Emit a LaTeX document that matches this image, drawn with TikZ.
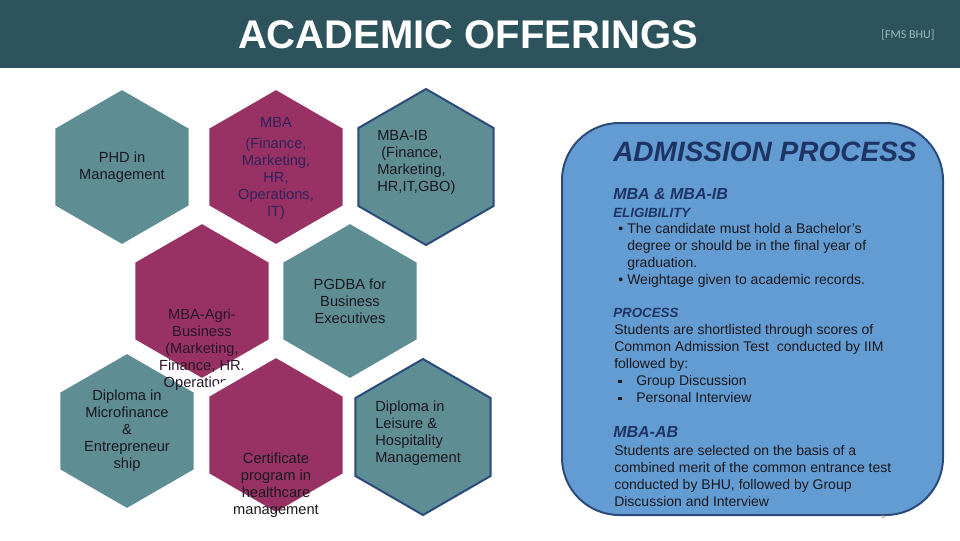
\documentclass[tikz,border=0pt]{standalone}
\usepackage{fontspec}
\setmainfont{Liberation Sans}
\newfontfamily\tagfont{Carlito}
\usepackage{tikz}
\usetikzlibrary{positioning, shapes.geometric}

\definecolor{barteal}{RGB}{45,83,92}
\definecolor{taggray}{RGB}{160,184,188}
\definecolor{hexteal}{RGB}{94,141,148}
\definecolor{hexwine}{RGB}{153,50,100}
\definecolor{panelblue}{RGB}{99,156,210}
\definecolor{panelnavy}{RGB}{44,74,122}
\definecolor{headnavy}{RGB}{30,52,100}
\definecolor{bodyink}{RGB}{25,25,30}
\definecolor{mbaink}{RGB}{48,34,92}
\definecolor{agriink}{RGB}{40,22,40}

\tikzset{
  hexa/.style={regular polygon, regular polygon sides=6, shape border rotate=30, minimum size=120.75pt, inner sep=0pt, draw=white, line width=4.5pt},
  hexteal/.style={hexa, fill=hexteal},
  hexwine/.style={hexa, fill=hexwine},
  hexedge/.style={hexa, minimum size=117pt, fill=hexteal, draw=panelnavy, line width=1.5pt},
  hextext/.style={font=\fontsize{11}{12.75}\selectfont, align=center, text=bodyink, inner sep=0pt},
  paneltext/.style={font=\fontsize{10.5}{12.75}\selectfont, align=left, text=bodyink, inner sep=0pt, anchor=north west},
  panelhead/.style={font=\fontsize{#1}{#1}\selectfont\bfseries\itshape, text=headnavy, inner sep=0pt, anchor=west},
}

\begin{document}
\begin{tikzpicture}[x=0.75pt, y=-0.75pt]
    \useasboundingbox (0,0) rectangle (960,540);
    % title bar
    \fill[barteal] (0,0) rectangle (960,68);
    \node[font=\fontsize{30}{36}\selectfont\bfseries, text=white] (title) at (468,35) {ACADEMIC OFFERINGS};
    \node[font=\tagfont\fontsize{9}{10}\selectfont, text=taggray] (tag) at (908,35) {[FMS BHU]};

    % hexagons
    \node[hexteal] (phd) at (122,167) {};
    \node[hexwine] (mba) at (276,167) {};
    \node[hexedge] (mbaib) at (426,167) {};
    \node[hexwine] (agri) at (202,301) {};
    \node[hexteal] (pgdba) at (350,301) {};
    \node[hexteal] (micro) at (127,431) {};
    \node[hextext, text=agriink] (agritxt) at (202,350) {MBA-Agri-\\Business\\(Marketing,\\Finance, HR.\\Operations)};
    \node[hexwine] (cert) at (276,435) {};
    \node[hexedge] (leis) at (423,437) {};

    \node[hextext] (phdtxt) at (phd) {PHD in\\Management};
    \node[hextext, text=mbaink] (mbatxt) at (276,168) {MBA\\[3pt](Finance,\\Marketing,\\HR,\\Operations,\\IT)};
    \node[hextext, align=left, anchor=west] (ibtxt) at (377,162) {MBA-IB\\\hspace*{3pt}(Finance,\\Marketing,\\HR,IT,GBO)};
    \node[hextext] (pgdbatxt) at (pgdba) {PGDBA for\\Business\\Executives};
    \node[hextext] (microtxt) at (micro) {Diploma in\\Microfinance\\\&\\Entrepreneur\\ship};
    \node[hextext] (certtxt) at (276,485) {Certificate\\program in\\healthcare\\management};
    \node[hextext, align=left, anchor=west] (leistxt) at (375,433) {Diploma in\\Leisure \&\\Hospitality\\Management};

    % admission panel
    \draw[panelnavy, fill=panelblue, line width=1.5pt, rounded corners=43pt] (562,123) rectangle (943,515);
    \node[panelhead=21] (adm) at (613,152) {ADMISSION PROCESS};
    \node[panelhead=12] (mbaibhead) at (613,194) {MBA \& MBA-IB};
    \node[panelhead=10] (elig) at (613,213) {ELIGIBILITY};
    \node[paneltext] (eligtxt) at (614,223) {\makebox[9.75pt][l]{\hspace{3pt}\textbullet}The candidate must hold a Bachelor's\\\hspace*{9.75pt}degree or should be in the final year of\\\hspace*{9.75pt}graduation.\\\makebox[9.75pt][l]{\hspace{3pt}\textbullet}Weightage given to academic records.};
    \node[panelhead=10] (proc) at (613,313) {PROCESS};
    \node[paneltext] (proctxt) at (614,324) {Students are shortlisted through scores of\\Common Admission Test\ \ conducted by IIM\\followed by:\\\makebox[16.5pt][l]{\hspace{3pt}\rule[1.6pt]{2.6pt}{2.6pt}}Group Discussion\\\makebox[16.5pt][l]{\hspace{3pt}\rule[1.6pt]{2.6pt}{2.6pt}}Personal Interview};
    \node[panelhead=12] (mbaab) at (613,432) {MBA-AB};
    \node[paneltext] (abtxt) at (614,445) {Students are selected on the basis of a\\combined merit of the common entrance test\\conducted by BHU, followed by Group\\Discussion and Interview};
    \node[font=\fontsize{5}{5}\selectfont, text=gray] (pgno) at (883,516) {5};
\end{tikzpicture}
\end{document}
